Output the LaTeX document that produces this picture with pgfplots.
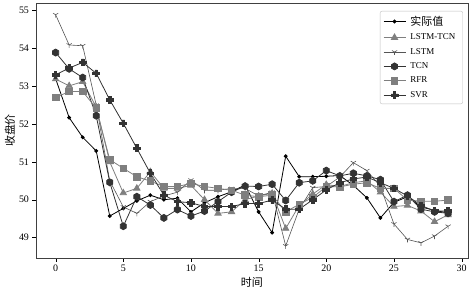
\documentclass[border=0pt]{standalone}
\usepackage{fontspec}
\setmainfont{Liberation Serif}
\newfontfamily\cjk{Noto Sans CJK SC}
\usepackage{pgfplots}
\pgfplotsset{compat=1.18}
\usetikzlibrary{plotmarks}
\pgfdeclareplotmark{hexagon*}{%
 \pgfpathmoveto{\pgfpointpolar{90}{\pgfplotmarksize}}%
 \pgfpathlineto{\pgfpointpolar{150}{\pgfplotmarksize}}%
 \pgfpathlineto{\pgfpointpolar{210}{\pgfplotmarksize}}%
 \pgfpathlineto{\pgfpointpolar{270}{\pgfplotmarksize}}%
 \pgfpathlineto{\pgfpointpolar{330}{\pgfplotmarksize}}%
 \pgfpathlineto{\pgfpointpolar{30}{\pgfplotmarksize}}%
 \pgfpathclose\pgfusepathqfillstroke}
\pgfdeclareplotmark{tridown}{%
 \pgfpathmoveto{\pgfpointorigin}\pgfpathlineto{\pgfpointpolar{270}{\pgfplotmarksize}}%
 \pgfpathmoveto{\pgfpointorigin}\pgfpathlineto{\pgfpointpolar{30}{\pgfplotmarksize}}%
 \pgfpathmoveto{\pgfpointorigin}\pgfpathlineto{\pgfpointpolar{150}{\pgfplotmarksize}}%
 \pgfusepathqstroke}
\pgfdeclareplotmark{plusfill}{%
 \pgfpathmoveto{\pgfpoint{-0.36\pgfplotmarksize}{\pgfplotmarksize}}%
 \pgfpathlineto{\pgfpoint{0.36\pgfplotmarksize}{\pgfplotmarksize}}%
 \pgfpathlineto{\pgfpoint{0.36\pgfplotmarksize}{0.36\pgfplotmarksize}}%
 \pgfpathlineto{\pgfpoint{\pgfplotmarksize}{0.36\pgfplotmarksize}}%
 \pgfpathlineto{\pgfpoint{\pgfplotmarksize}{-0.36\pgfplotmarksize}}%
 \pgfpathlineto{\pgfpoint{0.36\pgfplotmarksize}{-0.36\pgfplotmarksize}}%
 \pgfpathlineto{\pgfpoint{0.36\pgfplotmarksize}{-\pgfplotmarksize}}%
 \pgfpathlineto{\pgfpoint{-0.36\pgfplotmarksize}{-\pgfplotmarksize}}%
 \pgfpathlineto{\pgfpoint{-0.36\pgfplotmarksize}{-0.36\pgfplotmarksize}}%
 \pgfpathlineto{\pgfpoint{-\pgfplotmarksize}{-0.36\pgfplotmarksize}}%
 \pgfpathlineto{\pgfpoint{-\pgfplotmarksize}{0.36\pgfplotmarksize}}%
 \pgfpathlineto{\pgfpoint{-0.36\pgfplotmarksize}{0.36\pgfplotmarksize}}%
 \pgfpathclose\pgfusepathqfillstroke}
\definecolor{dk}{HTML}{333333}
\definecolor{gr}{HTML}{7F7F7F}
\definecolor{lg}{HTML}{555555}
\begin{document}
\begin{tikzpicture}
\path[use as bounding box] (0,0) rectangle (472bp,290bp);
\begin{axis}[
  at={(36bp,32bp)}, anchor=south west,
  scale only axis, width=431.7bp, height=255bp,
  xmin=-1.45, xmax=30.45, ymin=48.46, ymax=55.2,
  xtick={0,5,10,15,20,25,30},
  ytick={49,50,51,52,53,54,55},
  tick align=outside, tick pos=left,
  major tick length=3.5bp,
  axis line style={black!75},
  tick style={black},
  ticklabel style={font=\fontsize{10}{12}\selectfont},
  /pgf/number format/assume math mode=true,
  xlabel={\cjk\fontsize{11}{12}\selectfont 时间},
  ylabel={\cjk\fontsize{11}{12}\selectfont 收盘价},
  xlabel style={at={(axis description cs:0.5,0)}, anchor=center, yshift=-24.5bp},
  ylabel style={at={(axis description cs:0,0.5)}, anchor=center, yshift=26bp},
  legend style={at={(axis description cs:0.989,0.969)}, anchor=north east,
    draw=black!25, rounded corners=2bp, fill=white,
    font=\fontsize{9}{10}\selectfont, row sep=3bp, inner sep=3bp,
    nodes={inner xsep=4.5bp}},
  legend cell align=left,
  legend image code/.code={\draw[mark repeat=2,mark phase=2,#1] plot coordinates {(0bp,0bp) (11bp,0bp) (22bp,0bp)};},
]
\addplot[black, line width=0.8bp, mark=*, mark size=1.5bp] coordinates {
(0,53.2)(1,52.17)(2,51.65)(3,51.29)(4,49.57)(5,49.77)(6,49.97)(7,50.12)(8,50.0)(9,50.04)
(10,49.68)(11,49.92)(12,50.08)(13,50.21)(14,50.39)(15,49.68)(16,49.13)(17,51.15)(18,50.61)(19,50.61)
(20,50.62)(21,50.64)(22,50.38)(23,50.05)(24,49.52)(25,49.93)(26,50.08)(27,49.81)(28,49.72)(29,49.65)};
\addlegendentry{\cjk\fontsize{11}{12}\selectfont 实际值}
\addplot[gr, line width=0.8bp, mark=triangle*, mark size=3.6bp] coordinates {
(0,53.19)(1,53.01)(2,53.12)(3,52.45)(4,51.0)(5,50.18)(6,50.30)(7,50.74)(8,50.3)(9,50.3)
(10,50.38)(11,50.0)(12,49.64)(13,49.68)(14,50.0)(15,50.1)(16,50.17)(17,49.24)(18,49.85)(19,50.15)
(20,50.4)(21,50.35)(22,50.45)(23,50.5)(24,50.2)(25,49.82)(26,49.85)(27,49.7)(28,49.42)(29,49.6)};
\addlegendentry{LSTM-TCN}
\addplot[lg, line width=0.6bp, mark=tridown, mark size=3bp, mark options={line width=0.6bp}] coordinates {
(0,54.89)(1,54.09)(2,54.07)(3,52.5)(4,50.5)(5,49.81)(6,49.64)(7,49.95)(8,50.1)(9,50.2)
(10,50.52)(11,50.25)(12,50.25)(13,50.3)(14,50.3)(15,50.1)(16,50.2)(17,48.78)(18,49.75)(19,50.32)
(20,50.35)(21,50.6)(22,50.98)(23,50.77)(24,50.35)(25,49.36)(26,48.95)(27,48.86)(28,49.04)(29,49.3)};
\addlegendentry{LSTM}
\addplot[dk, line width=0.8bp, mark=hexagon*, mark size=3.5bp] coordinates {
(0,53.89)(1,53.46)(2,53.23)(3,52.22)(4,50.46)(5,49.30)(6,50.08)(7,49.86)(8,49.52)(9,49.74)
(10,49.57)(11,49.7)(12,49.95)(13,50.2)(14,50.36)(15,50.35)(16,50.41)(17,49.98)(18,50.45)(19,50.5)
(20,50.77)(21,50.63)(22,50.7)(23,50.63)(24,50.53)(25,49.95)(26,50.12)(27,49.75)(28,49.68)(29,49.64)};
\addlegendentry{TCN}
\addplot[gr, line width=0.8bp, mark=square*, mark size=3.3bp] coordinates {
(0,52.70)(1,52.86)(2,52.86)(3,52.42)(4,51.06)(5,50.83)(6,50.61)(7,50.49)(8,50.35)(9,50.35)
(10,50.43)(11,50.35)(12,50.30)(13,50.25)(14,50.12)(15,50.08)(16,50.12)(17,49.68)(18,49.88)(19,50.06)
(20,50.35)(21,50.34)(22,50.41)(23,50.45)(24,50.3)(25,50.3)(26,49.99)(27,49.96)(28,49.96)(29,49.99)};
\addlegendentry{RFR}
\addplot[dk, line width=0.8bp, mark=plusfill, mark size=3.4bp] coordinates {
(0,53.30)(1,53.48)(2,53.63)(3,53.34)(4,52.64)(5,52.02)(6,51.36)(7,50.70)(8,50.12)(9,49.95)
(10,49.92)(11,49.82)(12,49.82)(13,49.82)(14,49.9)(15,49.9)(16,49.99)(17,49.75)(18,49.75)(19,50.0)
(20,50.26)(21,50.45)(22,50.55)(23,50.6)(24,50.45)(25,50.3)(26,50.1)(27,49.85)(28,49.7)(29,49.7)};
\addlegendentry{SVR}
\end{axis}
\end{tikzpicture}
\end{document}
